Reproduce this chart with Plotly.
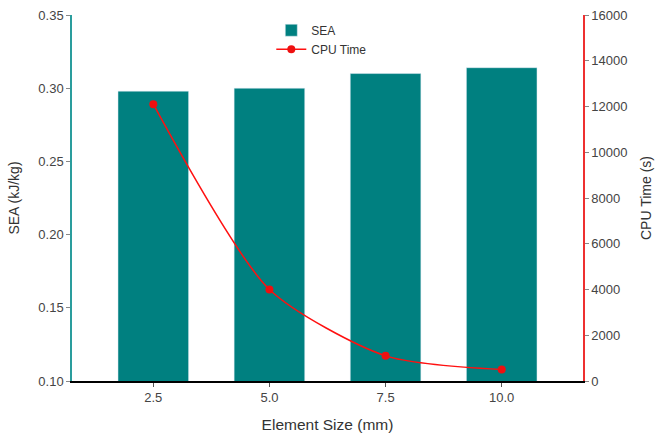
import plotly.graph_objects as go

element_size = [2.5, 5.0, 7.5, 10.0]
sea = [0.298, 0.300, 0.310, 0.314]
cpu_time = [12100, 4000, 1100, 500]

fig = go.Figure()
fig.add_trace(go.Bar(x=element_size, y=sea, name="SEA", marker_color="#008080",
                     width=1.52, yaxis="y"))
fig.add_trace(go.Scatter(x=element_size, y=cpu_time, name="CPU Time", yaxis="y2",
                         mode="lines+markers",
                         line=dict(color="#ff1010", width=1.5, shape="spline", smoothing=0.7),
                         marker=dict(color="#ee1010", size=8)))

tick_font = dict(family="Liberation Sans, Arial", size=13, color="#444444")
title_font = dict(family="Liberation Sans, Arial", size=14, color="#333333")
fig.update_layout(
    width=656, height=441,
    margin=dict(l=72, r=73, t=15, b=60, autoexpand=False),
    plot_bgcolor="white", paper_bgcolor="white",
    font=dict(family="Liberation Sans, Arial", size=12, color="#333333"),
    showlegend=True,
    legend=dict(x=0.39, y=0.998, xanchor="left", yanchor="top", bgcolor="rgba(0,0,0,0)",
                font=dict(size=12, color="#333333"), tracegroupgap=0, itemwidth=30),
    xaxis=dict(range=[0.75, 11.75], tickvals=element_size, ticktext=["2.5", "5.0", "7.5", "10.0"],
               showline=True, linecolor="black", linewidth=1.5, ticks="outside", ticklen=4,
               tickcolor="#555", showgrid=False, zeroline=False, automargin=False,
               tickfont=tick_font,
               title=dict(text="Element Size (mm)", font=dict(family="Liberation Sans, Arial", size=15.5, color="#333333"))),
    yaxis=dict(range=[0.10, 0.35], dtick=0.05, tickformat=".2f", showline=True, linecolor="#2a9d9d",
               linewidth=1.5, ticks="outside", ticklen=4, tickcolor="#888", showgrid=False,
               zeroline=False, automargin=False, tickfont=tick_font,
               title=dict(text="SEA (kJ/kg)", font=title_font)),
    yaxis2=dict(range=[0, 16000], dtick=2000, tickformat="d", overlaying="y", side="right",
                showline=True, linecolor="#ee3030", linewidth=1.5, ticks="outside", ticklen=4,
                tickcolor="#888", showgrid=False, zeroline=False, automargin=False,
                tickfont=tick_font,
                title=dict(text="CPU Time (s)", font=title_font)),
)
fig.write_html("out.html", config={"displayModeBar": False},
               post_script="document.body.style.margin='0';")
